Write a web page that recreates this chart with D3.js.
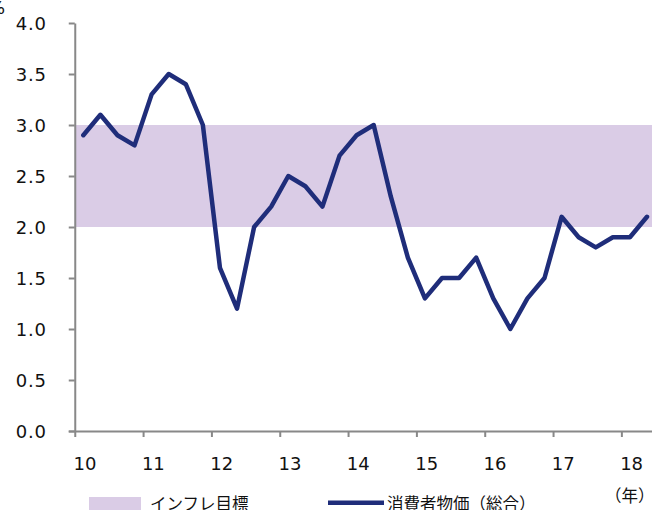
<!DOCTYPE html>
<html>
<head>
<meta charset="utf-8">
<script src="https://cdn.jsdelivr.net/npm/d3@7"></script>
<style>
  html, body { margin: 0; padding: 0; background: #fff; overflow: hidden; }
  svg { display: block; }
  .num { font-family: "DejaVu Sans", Verdana, sans-serif; font-size: 18px; fill: #111; }
  .jp { font-family: "Noto Sans CJK JP", sans-serif; font-size: 16.5px; fill: #111; }
</style>
</head>
<body>
<svg id="chart" width="652" height="510"></svg>
<script>
// ---- data ----
const yearLabels = ["10", "11", "12", "13", "14", "15", "16", "17", "18"];
const quarters = d3.range(34); // 2010Q1 .. 2018Q2
const cpi = [
  2.9, 3.1, 2.9, 2.8,
  3.3, 3.5, 3.4, 3.0,
  1.6, 1.2, 2.0, 2.2,
  2.5, 2.4, 2.2, 2.7,
  2.9, 3.0, 2.3, 1.7,
  1.3, 1.5, 1.5, 1.7,
  1.3, 1.0, 1.3, 1.5,
  2.1, 1.9, 1.8, 1.9,
  1.9, 2.1
];
const targetBand = [2.0, 3.0];
const yTicks = [0, 0.5, 1.0, 1.5, 2.0, 2.5, 3.0, 3.5, 4.0];
const legendLabels = ["インフレ目標", "消費者物価（総合）"];
const unitLabel = "（年）";

// ---- layout ----
const W = 652, H = 510;
const svg = d3.select("#chart");
const x = d3.scaleLinear().domain([0, 33]).range([83.3, 647]);
const y = d3.scaleLinear().domain([0, 4]).range([431, 23]);
const xLeft = x(-0.5), xRight = W;

// target band
svg.append("rect")
  .attr("x", xLeft).attr("width", xRight - xLeft)
  .attr("y", y(targetBand[1])).attr("height", y(targetBand[0]) - y(targetBand[1]))
  .attr("fill", "#dacce6");

// y axis
const yAxis = svg.append("g")
  .attr("transform", `translate(${xLeft},0)`)
  .call(d3.axisLeft(y).tickValues(yTicks).tickFormat(d3.format(".1f")).tickSize(6).tickPadding(22).tickSizeOuter(0));
yAxis.select(".domain").attr("stroke", "#888").attr("stroke-width", 2);
yAxis.selectAll(".tick line").attr("stroke", "#888").attr("stroke-width", 2);
yAxis.selectAll(".tick text").attr("class", "num").attr("letter-spacing", "0.8px").attr("dy", "0.36em");

// x axis: ticks at year boundaries
const boundaries = d3.range(yearLabels.length + 1).map(k => 4 * k - 0.5);
const xAxis = svg.append("g")
  .attr("transform", `translate(0,${y(0)})`)
  .call(d3.axisBottom(x).tickValues(boundaries).tickFormat("").tickSize(6).tickSizeOuter(0));
xAxis.select(".domain").attr("d", `M${xLeft - 6},0.5H${xRight}`).attr("stroke", "#888").attr("stroke-width", 2);
xAxis.selectAll(".tick line").attr("stroke", "#888").attr("stroke-width", 2);

svg.append("g").selectAll("text").data(yearLabels).join("text")
  .attr("class", "num")
  .attr("x", (d, i) => x(4 * i + 0.1))
  .attr("y", 470)
  .attr("text-anchor", "middle")
  .text(d => d);

// line
svg.append("path")
  .datum(cpi)
  .attr("fill", "none")
  .attr("stroke", "#1f2d7a")
  .attr("stroke-width", 4.5)
  .attr("stroke-linejoin", "round")
  .attr("stroke-linecap", "round")
  .attr("d", d3.line().x((d, i) => x(quarters[i])).y(d => y(d)));

// unit label (cut off at top-left)
svg.append("text").attr("class", "num").attr("x", 5).attr("y", 14)
  .attr("text-anchor", "end").attr("font-size", "14px").text("%");

// legend
svg.append("rect").attr("x", 89).attr("y", 497).attr("width", 52).attr("height", 20).attr("fill", "#dacce6");
svg.append("text").attr("class", "jp").attr("x", 150).attr("y", 510).text(legendLabels[0]);
svg.append("line").attr("x1", 328).attr("x2", 384).attr("y1", 502.7).attr("y2", 502.7)
  .attr("stroke", "#1f2d7a").attr("stroke-width", 4.5);
svg.append("text").attr("class", "jp").attr("x", 387).attr("y", 510).text(legendLabels[1]);
svg.append("text").attr("class", "jp").attr("x", 605).attr("y", 502).text(unitLabel);
</script>
</body>
</html>
